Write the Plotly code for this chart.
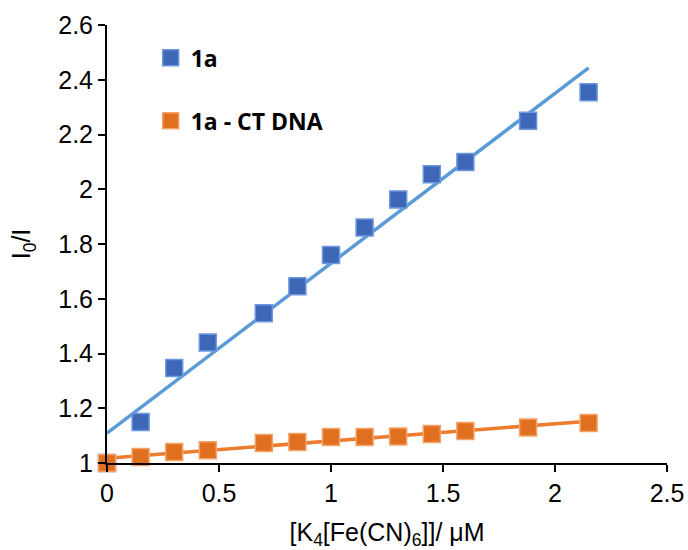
import numpy as np
import plotly.graph_objects as go

x_vals = [0, 0.15, 0.3, 0.45, 0.7, 0.85, 1.0, 1.15, 1.3, 1.45, 1.6, 1.88, 2.15]
y_1a = [1.0, 1.15, 1.347, 1.44, 1.547, 1.646, 1.76, 1.86, 1.963, 2.055, 2.10, 2.25, 2.354]
y_dna = [1.0, 1.022, 1.04, 1.047, 1.073, 1.077, 1.095, 1.095, 1.097, 1.106, 1.117, 1.13, 1.146]
x_ticks = [0, 0.5, 1, 1.5, 2, 2.5]
y_ticks = [1, 1.2, 1.4, 1.6, 1.8, 2, 2.2, 2.4, 2.6]

xa = np.array(x_vals)
fit_x = np.array([0, max(x_vals)])

def fit(y):
    m, b = np.polyfit(xa, np.array(y), 1)
    return m * fit_x + b

fig = go.Figure()
fig.add_trace(go.Scatter(x=fit_x, y=fit(y_1a), mode="lines",
                         line=dict(color="#5B9BD5", width=3.5), showlegend=False, cliponaxis=False))
fig.add_trace(go.Scatter(x=fit_x, y=fit(y_dna), mode="lines",
                         line=dict(color="#ED7D31", width=3.5), showlegend=False, cliponaxis=False))
fig.add_trace(go.Scatter(x=x_vals, y=y_1a, mode="markers", name="<b>1a</b>",
                         marker=dict(symbol="square", size=17, color="#3F67B8",
                                     line=dict(color="#6E98DD", width=1.5)),
                         cliponaxis=False, legend="legend"))
fig.add_trace(go.Scatter(x=x_vals, y=y_dna, mode="markers", name="<b>1a - CT DNA</b>",
                         marker=dict(symbol="square", size=17, color="#E0701F",
                                     line=dict(color="#F4A46A", width=1.5)),
                         cliponaxis=False, legend="legend2"))

legfont = dict(family="Open Sans, Liberation Sans, sans-serif", size=23, color="black")
fig.update_layout(
    width=688, height=550,
    margin=dict(l=107, r=21, t=25, b=87, autoexpand=False),
    paper_bgcolor="white", plot_bgcolor="white",
    font=dict(family="Liberation Sans, Arial, sans-serif", size=25, color="black"),
    legend=dict(x=0.078, y=0.925, xanchor="left", yanchor="middle", font=legfont,
                bgcolor="rgba(0,0,0,0)"),
    legend2=dict(x=0.078, y=0.781, xanchor="left", yanchor="middle", font=legfont,
                 bgcolor="rgba(0,0,0,0)"),
    xaxis=dict(range=[0, 2.5], tickvals=x_ticks, ticks="outside", ticklen=7,
               tickcolor="black", tickwidth=1.5, showline=True, linecolor="black", linewidth=2,
               showgrid=False, zeroline=False, automargin=False,
               title=dict(text="[K<sub>4</sub>[Fe(CN)<sub>6</sub>]]/ μM", standoff=30,
                          font=dict(size=25)),
               tickfont=dict(size=25)),
    yaxis=dict(range=[1, 2.6], tickvals=y_ticks, ticks="outside", ticklen=7,
               tickcolor="black", tickwidth=1.5, showline=True, linecolor="black", linewidth=2,
               showgrid=False, zeroline=False, automargin=False,
               title=dict(text="I<sub>0</sub>/I", standoff=20, font=dict(size=25)),
               tickfont=dict(size=25)),
)
fig.write_html("out.html")
